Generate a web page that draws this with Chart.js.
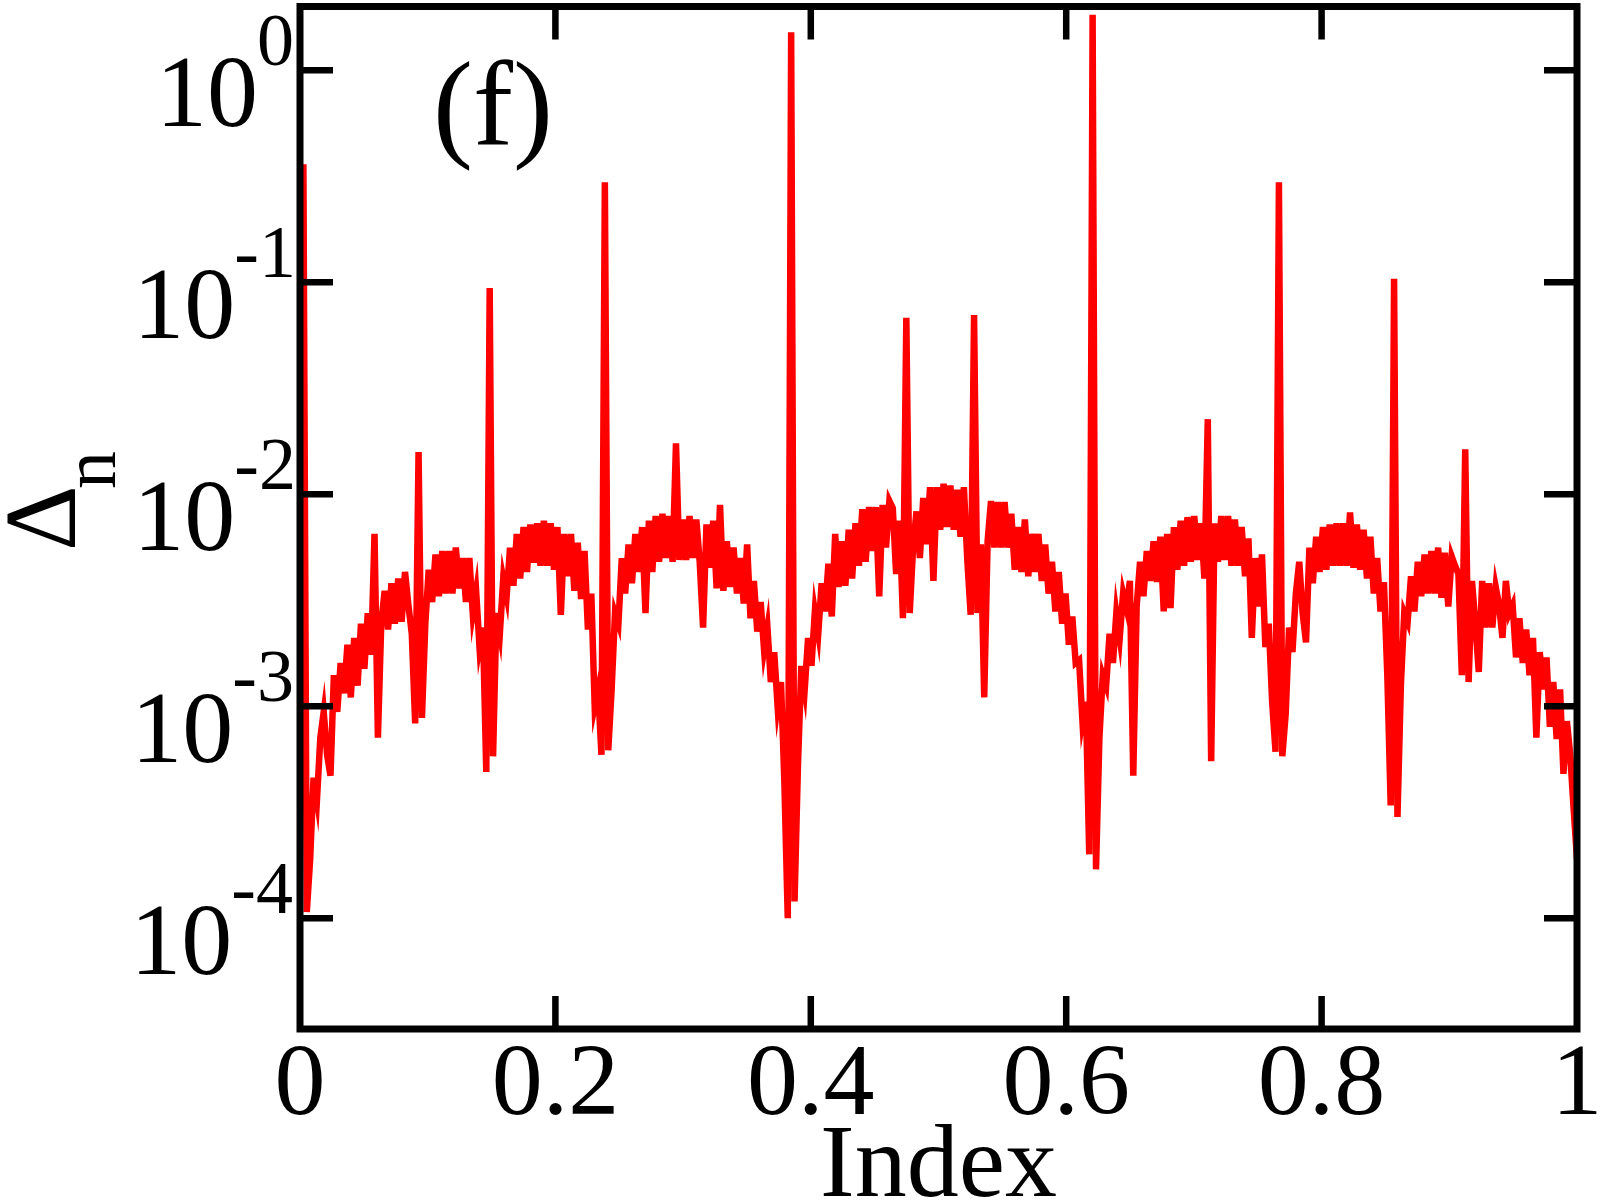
<!DOCTYPE html>
<html>
<head>
<meta charset="utf-8">
<title>Delta n vs Index</title>
<script src="https://cdn.jsdelivr.net/npm/chart.js@4.4.0/dist/chart.umd.min.js"></script>
<style>
  html, body { margin: 0; padding: 0; background: #fff; }
  #chart { display: block; }
</style>
</head>
<body>
<canvas id="chart" width="1600" height="1200"></canvas>
<script>
// DATA

// gap size for each level (377 levels, index = n / 377)
var gapValues = [
  0.36, 1.07e-4, 1.9e-4, 4.6e-4, 3.6e-4, 7.1e-4, 9.4e-4, 5.9e-4, 4.7e-4, 1.4e-3,
  9.4e-4, 1.6e-3, 1.15e-3, 1.95e-3, 1.1e-3, 2.1e-3, 1.25e-3, 2.45e-3, 1.5e-3, 2.75e-3,
  1.75e-3, 6.5e-3, 7.1e-4, 2.5e-3, 3.5e-3, 2.3e-3, 3.8e-3, 2.45e-3, 4.0e-3, 2.5e-3,
  4.3e-3, 3.0e-3, 2.2e-3, 8.3e-4, 0.0158, 8.8e-4, 2.45e-3, 4.4e-3, 3.1e-3, 5.2e-3,
  3.3e-3, 5.4e-3, 3.4e-3, 5.4e-3, 3.4e-3, 5.6e-3, 3.6e-3, 5.0e-3, 3.1e-3, 5.0e-3,
  2.75e-3, 3.5e-3, 1.9e-3, 2.35e-3, 4.9e-4, 0.094, 5.8e-4, 2.75e-3, 2.2e-3, 4.0e-3,
  3.3e-3, 5.6e-3, 3.7e-3, 6.5e-3, 4.0e-3, 7.0e-3, 4.3e-3, 7.2e-3, 4.75e-3, 7.3e-3,
  4.6e-3, 7.5e-3, 4.6e-3, 7.3e-3, 4.4e-3, 7.0e-3, 2.7e-3, 6.5e-3, 4.1e-3, 6.5e-3,
  3.5e-3, 5.9e-3, 3.2e-3, 5.4e-3, 2.3e-3, 3.4e-3, 1.0e-3, 1.2e-3, 5.9e-4, 0.296,
  6.2e-4, 1.2e-3, 2.75e-3, 2.45e-3, 5.0e-3, 3.4e-3, 5.8e-3, 3.8e-3, 6.5e-3, 4.3e-3,
  7.0e-3, 2.75e-3, 7.5e-3, 4.3e-3, 7.9e-3, 4.8e-3, 8.1e-3, 5.0e-3, 7.9e-3, 4.8e-3,
  0.0174, 4.9e-3, 7.6e-3, 4.9e-3, 7.9e-3, 5.0e-3, 7.6e-3, 4.8e-3, 2.35e-3, 7.2e-3,
  4.5e-3, 7.5e-3, 3.6e-3, 8.9e-3, 3.5e-3, 6.0e-3, 3.65e-3, 5.6e-3, 3.4e-3, 5.0e-3,
  3.05e-3, 5.8e-3, 2.6e-3, 3.9e-3, 2.25e-3, 3.1e-3, 1.85e-3, 2.35e-3, 1.3e-3, 1.8e-3,
  1.0e-3, 1.3e-3, 4.4e-4, 1.0e-4, 1.51, 1.2e-4, 5.2e-4, 1.55e-3, 1.2e-3, 2.1e-3,
  1.55e-3, 2.8e-3, 2.2e-3, 3.8e-3, 2.8e-3, 4.7e-3, 2.65e-3, 6.5e-3, 3.65e-3, 6.0e-3,
  3.7e-3, 6.8e-3, 4.0e-3, 7.3e-3, 4.6e-3, 8.5e-3, 4.8e-3, 8.7e-3, 5.4e-3, 8.7e-3,
  3.3e-3, 8.9e-3, 5.6e-3, 9.3e-3, 8.6e-3, 4.2e-3, 7.5e-3, 2.6e-3, 0.068, 2.75e-3,
  5.6e-3, 8.3e-3, 5.0e-3, 9.6e-3, 5.8e-3, 1.08e-2, 3.9e-3, 1.08e-2, 6.8e-3, 1.12e-2,
  7.0e-3, 1.1e-2, 6.8e-3, 1.05e-2, 6.3e-3, 1.08e-2, 4.9e-3, 2.7e-3, 0.070, 2.75e-3,
  5.8e-3, 1.1e-3, 6.0e-3, 9.3e-3, 5.6e-3, 9.2e-3, 5.6e-3, 9.2e-3, 5.6e-3, 8.1e-3,
  4.4e-3, 7.0e-3, 4.3e-3, 7.6e-3, 4.1e-3, 6.5e-3, 4.3e-3, 6.5e-3, 3.9e-3, 5.8e-3,
  3.4e-3, 4.8e-3, 2.8e-3, 4.3e-3, 2.45e-3, 3.4e-3, 1.95e-3, 2.65e-3, 1.6e-3, 1.65e-3,
  8.5e-4, 1.05e-3, 2.0e-4, 1.83, 1.7e-4, 7.1e-4, 1.4e-3, 1.25e-3, 2.2e-3, 1.6e-3,
  2.75e-3, 2.1e-3, 3.4e-3, 2.9e-3, 3.9e-3, 4.7e-4, 2.95e-3, 4.8e-3, 3.3e-3, 5.4e-3,
  3.9e-3, 6.0e-3, 3.85e-3, 6.3e-3, 2.8e-3, 6.5e-3, 2.9e-3, 7.0e-3, 4.4e-3, 7.5e-3,
  4.6e-3, 7.8e-3, 4.8e-3, 7.9e-3, 4.9e-3, 7.3e-3, 4.0e-3, 0.0226, 5.5e-4, 7.3e-3,
  4.8e-3, 7.9e-3, 4.9e-3, 7.9e-3, 4.6e-3, 7.6e-3, 4.6e-3, 7.0e-3, 4.1e-3, 6.2e-3,
  2.1e-3, 5.0e-3, 2.95e-3, 5.2e-3, 1.9e-3, 2.45e-3, 1.05e-3, 6.1e-4, 0.296, 5.8e-4,
  9.2e-4, 2.35e-3, 1.8e-3, 3.4e-3, 4.8e-3, 2.75e-3, 2.0e-3, 5.6e-3, 3.8e-3, 6.3e-3,
  4.3e-3, 7.0e-3, 4.4e-3, 7.2e-3, 4.6e-3, 7.3e-3, 4.6e-3, 7.3e-3, 4.6e-3, 8.2e-3,
  4.5e-3, 7.2e-3, 4.4e-3, 6.8e-3, 4.0e-3, 6.3e-3, 3.4e-3, 5.0e-3, 2.8e-3, 3.85e-3,
  1.4e-3, 3.4e-4, 0.104, 3.0e-4, 1.25e-3, 2.75e-3, 2.5e-3, 4.1e-3, 2.8e-3, 4.8e-3,
  3.3e-3, 5.2e-3, 3.4e-3, 5.4e-3, 3.4e-3, 5.6e-3, 3.25e-3, 5.3e-3, 2.95e-3, 5.1e-3,
  4.6e-3, 4.2e-3, 1.4e-3, 0.0163, 1.3e-3, 3.9e-3, 2.45e-3, 1.45e-3, 3.9e-3, 2.35e-3,
  3.8e-3, 2.35e-3, 3.65e-3, 3.0e-3, 2.1e-3, 3.9e-3, 2.75e-3, 3.0e-3, 1.7e-3, 2.6e-3,
  1.6e-3, 2.3e-3, 1.4e-3, 2.1e-3, 7.1e-4, 1.8e-3, 1.2e-3, 1.7e-3, 8.0e-4, 1.3e-3,
  7.0e-4, 1.2e-3, 4.8e-4, 8.5e-4, 5.9e-4, 3.3e-4, 1.9e-4
];

var xTickValues = [0, 0.2, 0.4, 0.6, 0.8, 1];
var xTickLabels = ['0', '0.2', '0.4', '0.6', '0.8', '1'];
var yTickValues = [1, 0.1, 0.01, 0.001, 0.0001];
var yTickExponents = ['0', '-1', '-2', '-3', '-4'];

var serif = '"Liberation Serif", "Times New Roman", serif';

// FRAME, TICKS AND LABELS

var framePlugin = {
  id: 'frame',
  afterDatasetsDraw: function(chart) {
    var ctx = chart.ctx;
    var area = chart.chartArea;
    var xs = chart.scales.x;
    var ys = chart.scales.y;

    ctx.save();
    ctx.strokeStyle = '#000';
    ctx.lineWidth = 7;
    ctx.lineJoin = 'miter';
    ctx.strokeRect(area.left, area.top, area.right - area.left, area.bottom - area.top);

    // inward ticks on all four sides
    ctx.beginPath();
    xTickValues.forEach(function(v) {
      if (v === 0 || v === 1) return;
      var px = xs.getPixelForValue(v);
      ctx.moveTo(px, area.bottom);
      ctx.lineTo(px, area.bottom - 33);
      ctx.moveTo(px, area.top);
      ctx.lineTo(px, area.top + 33);
    });
    yTickValues.forEach(function(v) {
      var py = ys.getPixelForValue(v);
      ctx.moveTo(area.left, py);
      ctx.lineTo(area.left + 33, py);
      ctx.moveTo(area.right, py);
      ctx.lineTo(area.right - 33, py);
    });
    ctx.lineWidth = 6.5;
    ctx.stroke();

    ctx.fillStyle = '#000';
    ctx.textBaseline = 'alphabetic';

    // x tick labels
    ctx.font = '102px ' + serif;
    ctx.textAlign = 'center';
    xTickValues.forEach(function(v, i) {
      ctx.fillText(xTickLabels[i], xs.getPixelForValue(v), area.bottom + 85);
    });

    // y tick labels: 10 with a superscript exponent, aligned on the ink
    ctx.textAlign = 'left';
    yTickValues.forEach(function(v, i) {
      var py = ys.getPixelForValue(v);
      ctx.font = '74px ' + serif;
      var m = ctx.measureText(yTickExponents[i]);
      var sx = area.left - 8 - m.actualBoundingBoxRight;
      ctx.fillText(yTickExponents[i], sx, py - 5);
      var supLeft = sx - m.actualBoundingBoxLeft;
      ctx.font = '102px ' + serif;
      var m10 = ctx.measureText('10');
      ctx.fillText('10', supLeft - 4 - m10.actualBoundingBoxRight, py + 56);
    });

    // x axis title
    ctx.font = '104px ' + serif;
    ctx.textAlign = 'center';
    ctx.fillText('Index', (area.left + area.right) / 2, 1196);

    // y axis title, rotated
    ctx.save();
    ctx.translate(75, 551);
    ctx.rotate(-Math.PI / 2);
    ctx.textAlign = 'left';
    ctx.font = '102px ' + serif;
    ctx.fillText('\u0394', 0, 0);
    ctx.font = '76px ' + serif;
    ctx.fillText('n', 62, 40);
    ctx.restore();

    // panel label
    ctx.font = '120px ' + serif;
    ctx.textAlign = 'left';
    ctx.fillText('(f)', 433, 145);

    ctx.restore();
  }
};

// CHART

// level n sits at n / 377, so the first level is just right of 0 and the last is at 1
var points = gapValues.map(function(v, i) {
  return { x: (i + 1) / gapValues.length, y: v };
});

var ctx = document.getElementById('chart').getContext('2d');

var chart = new Chart(ctx, {
  type: 'line',
  data: {
    datasets: [{
      data: points,
      borderColor: '#ff0000',
      backgroundColor: '#ff0000',
      borderWidth: 6.5,
      pointRadius: 0,
      tension: 0,
      fill: false
    }]
  },
  options: {
    responsive: false,
    animation: false,
    devicePixelRatio: 1,
    layout: {
      padding: { left: 300, right: 23, top: 6.5, bottom: 171 }
    },
    plugins: {
      legend: { display: false },
      tooltip: { enabled: false }
    },
    scales: {
      x: {
        type: 'linear',
        min: 0,
        max: 1,
        bounds: 'data',
        display: false
      },
      y: {
        type: 'logarithmic',
        min: 3e-5,
        max: 2,
        bounds: 'data',
        display: false
      }
    }
  },
  plugins: [framePlugin]
});
</script>
</body>
</html>
